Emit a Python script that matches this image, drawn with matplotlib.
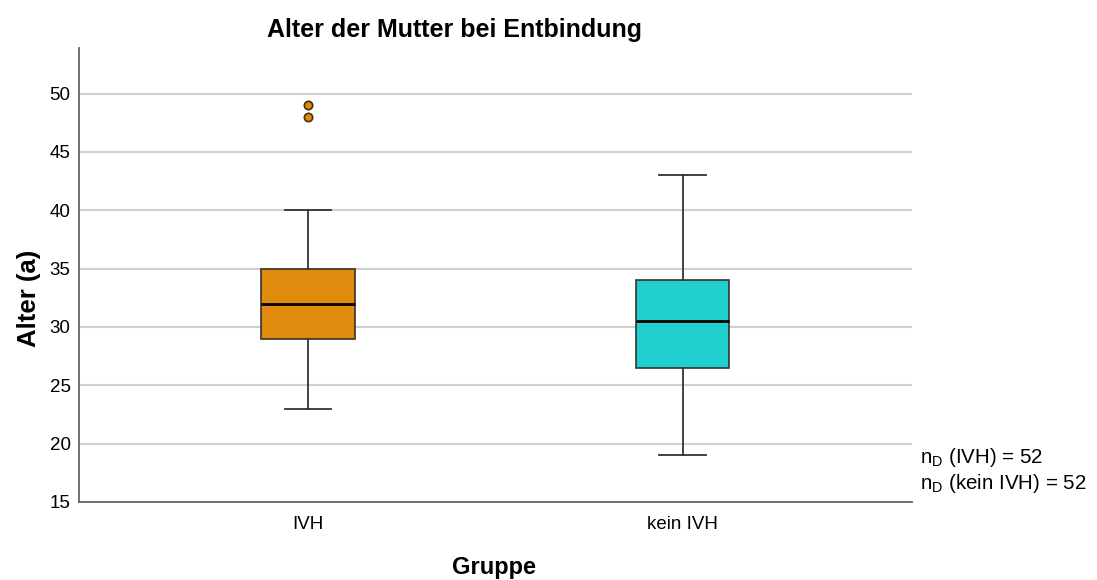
import matplotlib.pyplot as plt

# data
gruppen = ["IVH", "kein IVH"]
whisker_lo = [23, 19]
q1 = [29, 26.5]
median = [32, 30.5]
q3 = [35, 34]
whisker_hi = [40, 43]
ausreisser = [[48, 49], []]
farben = ["#E08A0E", "#20CECE"]
n_text = ["n$_\\mathrm{D}$ (IVH) = 52", "n$_\\mathrm{D}$ (kein IVH) = 52"]

plt.rcParams["font.family"] = ["Liberation Sans", "DejaVu Sans"]
plt.rcParams["mathtext.fontset"] = "custom"
plt.rcParams["mathtext.rm"] = "Liberation Sans"

fig = plt.figure(figsize=(10.97, 5.8), dpi=100)
ax = fig.add_axes([0.072, 0.1345, 0.759, 0.7825])

stats = []
for i, g in enumerate(gruppen):
    stats.append({"label": g, "whislo": whisker_lo[i], "q1": q1[i], "med": median[i],
                  "q3": q3[i], "whishi": whisker_hi[i], "fliers": ausreisser[i]})

bp = ax.bxp(stats, positions=[1, 2], widths=0.25, patch_artist=True, showfliers=True,
            boxprops=dict(edgecolor="#333333", linewidth=1.2),
            medianprops=dict(color="black", linewidth=2),
            whiskerprops=dict(color="#333333", linewidth=1.3),
            capprops=dict(color="#333333", linewidth=1.3),
            capwidths=0.125,
            flierprops=dict(marker="o", markersize=6, markeredgecolor="#4a3000",
                            markeredgewidth=1.2, linestyle="none"))
for patch, f in zip(bp["boxes"], farben):
    patch.set_facecolor(f)
for fl, f in zip(bp["fliers"], farben):
    fl.set_markerfacecolor(f)

ax.set_xlim(0.389, 2.611)
ax.set_ylim(15, 53.9)
ax.set_yticks([15, 20, 25, 30, 35, 40, 45, 50])
ax.yaxis.grid(True, color="#d0d0d0", linewidth=1.5)
ax.set_axisbelow(True)
ax.tick_params(length=0, labelsize=13.5, pad=6)
ax.tick_params(axis="x", pad=10)
for s in ["top", "right"]:
    ax.spines[s].set_visible(False)
for s in ["left", "bottom"]:
    ax.spines[s].set_color("#666666")
    ax.spines[s].set_linewidth(1.3)

fig.text(0.414, 0.948, "Alter der Mutter bei Entbindung", ha="center", va="center",
         fontsize=18, fontweight="bold")
fig.text(0.026, 0.486, "Alter (a)", rotation=90, ha="center", va="center",
         fontsize=18.5, fontweight="bold")
fig.text(0.450, 0.022, "Gruppe", ha="center", va="center", fontsize=17, fontweight="bold")
fig.text(0.839, 0.211, n_text[0], ha="left", va="center", fontsize=14.8)
fig.text(0.839, 0.167, n_text[1], ha="left", va="center", fontsize=14.8)

fig.savefig("out.png", dpi=100)
